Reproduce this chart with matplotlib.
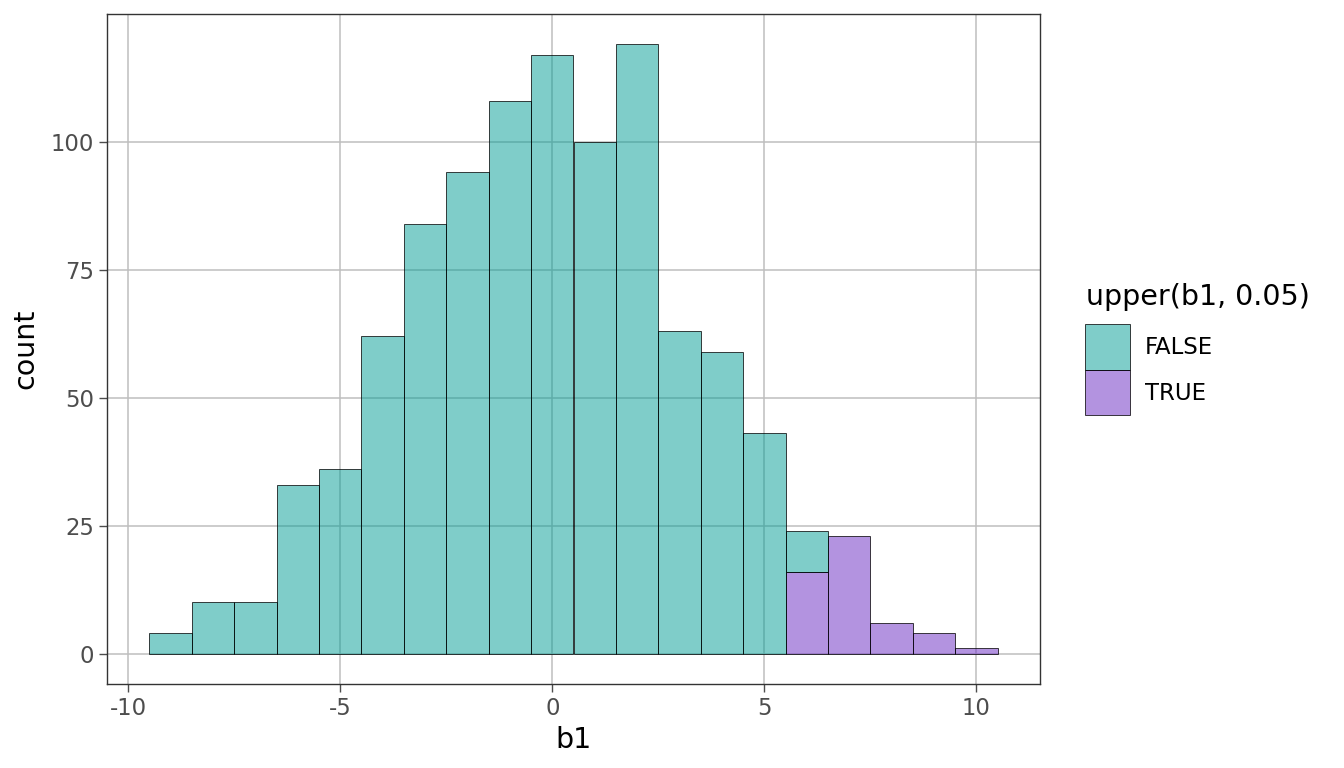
import matplotlib
matplotlib.use("Agg")
import matplotlib.pyplot as plt
from matplotlib.patches import Rectangle
import numpy as np

bin_centers = [-9, -8, -7, -6, -5, -4, -3, -2, -1, 0, 1, 2, 3, 4, 5, 6, 7, 8, 9, 10]
count_false = [4, 10, 10, 33, 36, 62, 84, 94, 108, 117, 100, 119, 63, 59, 43, 8, 0, 0, 0, 0]
count_true = [0, 0, 0, 0, 0, 0, 0, 0, 0, 0, 0, 0, 0, 0, 0, 16, 23, 6, 4, 1]
legend_title = "upper(b1, 0.05)"
legend_labels = ["FALSE", "TRUE"]
x_ticks = [-10, -5, 0, 5, 10]
y_ticks = [0, 25, 50, 75, 100]

teal = (0.0, 0.61, 0.58)
purple = (0.41, 0.16, 0.76)
alpha = 0.5
base = 20.5
small = base * 0.8

plt.rcParams['font.family'] = ['DejaVu Sans']
fig = plt.figure(figsize=(13.44, 7.68), dpi=100)
W, H = 1344, 768
ax = fig.add_axes([107 / W, 1 - 684 / H, (1040 - 107) / W, (684 - 14) / H])

ax.set_axisbelow(True)
ax.grid(True, color='#BEBEBE', linewidth=1.1)

x = np.array(bin_centers, dtype=float)
cf = np.array(count_false, dtype=float)
ct = np.array(count_true, dtype=float)
edge = (0, 0, 0, 0.75)
mask_t = ct > 0
ax.bar(x[mask_t], ct[mask_t], width=1.0,
       facecolor=(*purple, alpha), edgecolor=edge, linewidth=0.7)
mask_f = cf > 0
ax.bar(x[mask_f], cf[mask_f], width=1.0, bottom=ct[mask_f],
       facecolor=(*teal, alpha), edgecolor=edge, linewidth=0.7)

xmin, xmax = -9.5, 10.5
ymax = max((cf + ct))
ax.set_xlim(xmin - 0.05 * (xmax - xmin), xmax + 0.05 * (xmax - xmin))
ax.set_ylim(-0.05 * ymax, ymax * 1.05)
ax.set_xticks(x_ticks)
ax.set_xticklabels([str(t) for t in x_ticks])
ax.set_yticks(y_ticks)
ax.tick_params(axis='both', colors='#4D4D4D', labelsize=small, length=5.5, width=1,
               pad=4, labelcolor='#4D4D4D')
for s in ax.spines.values():
    s.set_color('#333333')
    s.set_linewidth(1.0)
ax.set_xlabel('b1', fontsize=base, color='black', labelpad=4)
ax.set_ylabel('count', fontsize=base, color='black', labelpad=8)

# legend
fig.text(1086 / W, 1 - 297 / H, legend_title, fontsize=base, va='center', ha='left')
cols = [teal, purple]
for i, lab in enumerate(legend_labels):
    y0 = 324 + i * 45.5
    r = Rectangle((1085 / W, 1 - (y0 + 45.5) / H), 45 / W, 45.5 / H,
                  transform=fig.transFigure, facecolor=(*cols[i], alpha),
                  edgecolor=edge, linewidth=0.7)
    fig.add_artist(r)
    fig.text(1145 / W, 1 - (y0 + 23.5) / H, lab, fontsize=small, va='center', ha='left')

fig.savefig('out.png', dpi=100)
